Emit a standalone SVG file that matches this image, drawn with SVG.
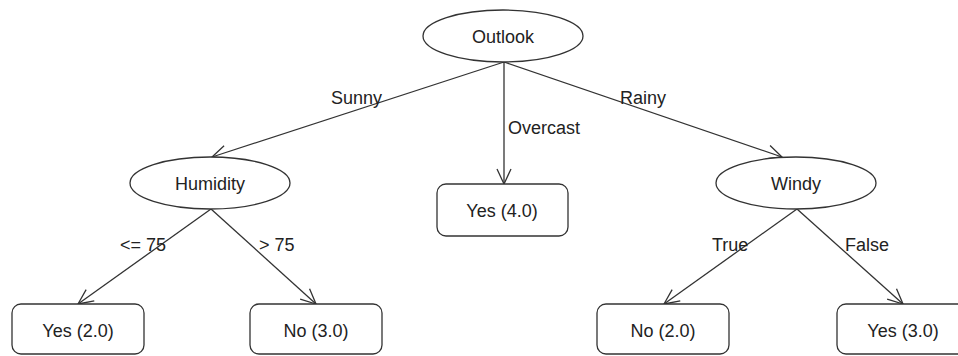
<svg xmlns="http://www.w3.org/2000/svg" width="958" height="356" viewBox="0 0 958 356">
<style>
.n{fill:#fff;stroke:#333;stroke-width:1.3}
.t{font-family:"Liberation Sans",Arial,sans-serif;font-size:18px;fill:#222}
.c{text-anchor:middle}
.e{stroke:#333;stroke-width:1.3;fill:none;marker-end:url(#a)}
</style>
<defs>
<marker id="a" markerUnits="userSpaceOnUse" orient="auto" markerWidth="30" markerHeight="30" refX="0" refY="0" viewBox="-20 -15 30 30" overflow="visible">
<path d="M-15,-7 L0,0 L-15,7" fill="none" stroke="#333" stroke-width="1.3"/>
</marker>
</defs>
<rect width="958" height="356" fill="#fff"/>
<g id="edges">
<line class="e" x1="504" y1="62" x2="212" y2="157"/>
<line class="e" x1="504" y1="62" x2="504" y2="184"/>
<line class="e" x1="504" y1="62" x2="782" y2="157"/>
<line class="e" x1="211" y1="209" x2="78" y2="304"/>
<line class="e" x1="211" y1="209" x2="316" y2="304"/>
<line class="e" x1="797" y1="209" x2="664" y2="304"/>
<line class="e" x1="797" y1="209" x2="903" y2="304"/>
<text class="t" x="331" y="104">Sunny</text>
<text class="t" x="508" y="134">Overcast</text>
<text class="t" x="620" y="104">Rainy</text>
<text class="t" x="120" y="251">&lt;= 75</text>
<text class="t" x="259" y="251">&gt; 75</text>
<text class="t" x="712" y="251">True</text>
<text class="t" x="845" y="251">False</text>
</g>
<g id="outlook"><ellipse class="n" cx="503" cy="36" rx="80" ry="26"/><text class="t c" x="503" y="43">Outlook</text></g>
<g id="humidity"><ellipse class="n" cx="210" cy="183" rx="80" ry="26"/><text class="t c" x="210" y="190">Humidity</text></g>
<g id="windy"><ellipse class="n" cx="796" cy="183" rx="80" ry="26"/><text class="t c" x="796" y="190">Windy</text></g>
<g id="yes40"><rect class="n" x="437" y="184" width="131" height="52" rx="9"/><text class="t c" x="502" y="217">Yes (4.0)</text></g>
<g id="yes20"><rect class="n" x="12" y="304" width="132" height="50" rx="9"/><text class="t c" x="78" y="337">Yes (2.0)</text></g>
<g id="no30"><rect class="n" x="250" y="304" width="132" height="50" rx="9"/><text class="t c" x="316" y="337">No (3.0)</text></g>
<g id="no20"><rect class="n" x="597" y="304" width="132" height="50" rx="9"/><text class="t c" x="663" y="337">No (2.0)</text></g>
<g id="yes30"><rect class="n" x="837" y="304" width="132" height="50" rx="9"/><text class="t c" x="903" y="337">Yes (3.0)</text></g>
</svg>
